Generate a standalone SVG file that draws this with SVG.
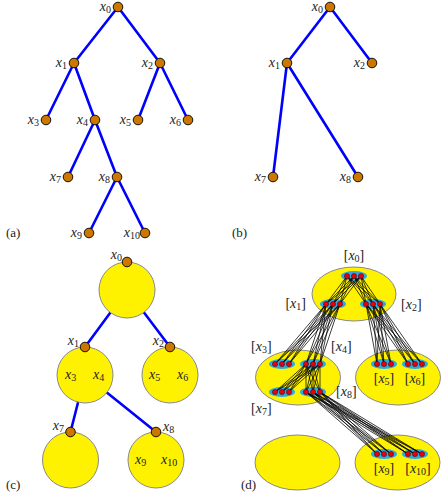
<svg xmlns="http://www.w3.org/2000/svg" width="444" height="496" viewBox="0 0 444 496">
<style>
text{font-family:"Liberation Serif","DejaVu Serif",serif;font-size:14px;fill:#222}
.v{font-style:italic}
.s{font-size:10px}
.e{stroke:#0000ff;stroke-width:2.6;fill:none;stroke-linecap:round}
.n{fill:#cc7700;stroke:#000;stroke-width:0.9}
.big{fill:#fff200;stroke:#888;stroke-width:1}
.halo{fill:#29abe2}
.d{fill:#e8000b;stroke:#400;stroke-width:0.5}
.w{stroke:#000;stroke-width:0.75;fill:none}
.cap{font-size:13px}
</style>
<rect width="444" height="496" fill="#fff"/>

<!-- ========== Panel (a) ========== -->
<g id="a-connectors">
<path class="e" d="M118 7L74 63M118 7L160 63M74 63L46 120M74 63L95 120M160 63L138 120M160 63L188 120M95 120L68 177M95 120L117 177M117 177L89 233M117 177L145 233"/>
</g>
<g id="a-x0"><circle class="n" cx="118" cy="7" r="4.8"/><text x="111" y="11" text-anchor="end"><tspan class="v">x</tspan><tspan class="s" dy="2">0</tspan></text></g>
<g id="a-x1"><circle class="n" cx="74" cy="63" r="4.8"/><text x="67" y="67" text-anchor="end"><tspan class="v">x</tspan><tspan class="s" dy="2">1</tspan></text></g>
<g id="a-x2"><circle class="n" cx="160" cy="63" r="4.8"/><text x="153" y="67" text-anchor="end"><tspan class="v">x</tspan><tspan class="s" dy="2">2</tspan></text></g>
<g id="a-x3"><circle class="n" cx="46" cy="120" r="4.8"/><text x="39" y="124" text-anchor="end"><tspan class="v">x</tspan><tspan class="s" dy="2">3</tspan></text></g>
<g id="a-x4"><circle class="n" cx="95" cy="120" r="4.8"/><text x="88" y="124" text-anchor="end"><tspan class="v">x</tspan><tspan class="s" dy="2">4</tspan></text></g>
<g id="a-x5"><circle class="n" cx="138" cy="120" r="4.8"/><text x="131" y="124" text-anchor="end"><tspan class="v">x</tspan><tspan class="s" dy="2">5</tspan></text></g>
<g id="a-x6"><circle class="n" cx="188" cy="120" r="4.8"/><text x="181" y="124" text-anchor="end"><tspan class="v">x</tspan><tspan class="s" dy="2">6</tspan></text></g>
<g id="a-x7"><circle class="n" cx="68" cy="177" r="4.8"/><text x="61" y="181" text-anchor="end"><tspan class="v">x</tspan><tspan class="s" dy="2">7</tspan></text></g>
<g id="a-x8"><circle class="n" cx="117" cy="177" r="4.8"/><text x="110" y="181" text-anchor="end"><tspan class="v">x</tspan><tspan class="s" dy="2">8</tspan></text></g>
<g id="a-x9"><circle class="n" cx="89" cy="233" r="4.8"/><text x="82" y="237" text-anchor="end"><tspan class="v">x</tspan><tspan class="s" dy="2">9</tspan></text></g>
<g id="a-x10"><circle class="n" cx="145" cy="233" r="4.8"/><text x="140" y="237" text-anchor="end"><tspan class="v">x</tspan><tspan class="s" dy="2">10</tspan></text></g>
<text class="cap" x="6" y="237">(a)</text>

<!-- ========== Panel (b) ========== -->
<g id="b-connectors">
<path class="e" d="M330 7L287 63M330 7L372 63M287 63L273 177M287 63L358 177"/>
</g>
<g id="b-x0"><circle class="n" cx="330" cy="7" r="4.8"/><text x="323" y="11" text-anchor="end"><tspan class="v">x</tspan><tspan class="s" dy="2">0</tspan></text></g>
<g id="b-x1"><circle class="n" cx="287" cy="63" r="4.8"/><text x="280" y="67" text-anchor="end"><tspan class="v">x</tspan><tspan class="s" dy="2">1</tspan></text></g>
<g id="b-x2"><circle class="n" cx="372" cy="63" r="4.8"/><text x="365" y="67" text-anchor="end"><tspan class="v">x</tspan><tspan class="s" dy="2">2</tspan></text></g>
<g id="b-x7"><circle class="n" cx="273" cy="177" r="4.8"/><text x="266" y="181" text-anchor="end"><tspan class="v">x</tspan><tspan class="s" dy="2">7</tspan></text></g>
<g id="b-x8"><circle class="n" cx="358" cy="177" r="4.8"/><text x="351" y="181" text-anchor="end"><tspan class="v">x</tspan><tspan class="s" dy="2">8</tspan></text></g>
<text class="cap" x="232" y="237">(b)</text>

<!-- ========== Panel (c) ========== -->
<g id="c-connectors">
<path class="e" d="M127 290L85 347M127 290L170 347M85 375L70.5 432M85 375L156 432"/>
</g>
<g id="c-x0"><circle class="big" cx="127" cy="290" r="28"/><circle class="n" cx="127" cy="262" r="4.8"/><text x="122" y="259" text-anchor="end"><tspan class="v">x</tspan><tspan class="s" dy="2">0</tspan></text></g>
<g id="c-x1"><circle class="big" cx="85" cy="375" r="28"/><circle class="n" cx="85" cy="347" r="4.8"/><text x="79" y="345" text-anchor="end"><tspan class="v">x</tspan><tspan class="s" dy="2">1</tspan></text>
<text x="65" y="379"><tspan class="v">x</tspan><tspan class="s" dy="2">3</tspan></text><text x="93" y="379"><tspan class="v">x</tspan><tspan class="s" dy="2">4</tspan></text></g>
<g id="c-x2"><circle class="big" cx="170" cy="375" r="28"/><circle class="n" cx="170" cy="347" r="4.8"/><text x="164" y="345" text-anchor="end"><tspan class="v">x</tspan><tspan class="s" dy="2">2</tspan></text>
<text x="149" y="379"><tspan class="v">x</tspan><tspan class="s" dy="2">5</tspan></text><text x="177" y="379"><tspan class="v">x</tspan><tspan class="s" dy="2">6</tspan></text></g>
<g id="c-x7"><circle class="big" cx="70.5" cy="460" r="28"/><circle class="n" cx="70.5" cy="432" r="4.8"/><text x="64" y="430" text-anchor="end"><tspan class="v">x</tspan><tspan class="s" dy="2">7</tspan></text></g>
<g id="c-x8"><circle class="big" cx="156" cy="460" r="28"/><circle class="n" cx="156" cy="432" r="4.8"/><text x="163" y="431"><tspan class="v">x</tspan><tspan class="s" dy="2">8</tspan></text>
<text x="135" y="464"><tspan class="v">x</tspan><tspan class="s" dy="2">9</tspan></text><text x="161" y="464"><tspan class="v">x</tspan><tspan class="s" dy="2">10</tspan></text></g>
<text class="cap" x="6" y="489">(c)</text>

<!-- ========== Panel (d) ========== -->
<g id="d-clusters">
<ellipse class="big" cx="354" cy="294" rx="42" ry="27"/>
<ellipse class="big" cx="298" cy="377.5" rx="42.5" ry="27.5"/>
<ellipse class="big" cx="398" cy="377.5" rx="42.5" ry="27.5"/>
<ellipse class="big" cx="297.5" cy="462.5" rx="42.5" ry="27.5"/>
<ellipse class="big" cx="397.5" cy="462.5" rx="42.5" ry="27.5"/>
</g>
<g id="d-halos">
<ellipse class="halo" cx="354" cy="276" rx="13" ry="5"/>
<ellipse class="halo" cx="333" cy="304" rx="13" ry="5"/>
<ellipse class="halo" cx="373" cy="304" rx="13" ry="5"/>
<ellipse class="halo" cx="282" cy="364" rx="13" ry="5"/>
<ellipse class="halo" cx="313" cy="364" rx="13" ry="5"/>
<ellipse class="halo" cx="384" cy="364" rx="13" ry="5"/>
<ellipse class="halo" cx="415" cy="364" rx="13" ry="5"/>
<ellipse class="halo" cx="282" cy="392" rx="13" ry="5"/>
<ellipse class="halo" cx="313" cy="392" rx="13" ry="5"/>
<ellipse class="halo" cx="384" cy="454" rx="13" ry="5"/>
<ellipse class="halo" cx="415" cy="454" rx="13" ry="5"/>
</g>
<g id="d-connectors" class="w">
<path d="M347 276L326 304M347 276L333 304M347 276L340 304M354 276L326 304M354 276L333 304M354 276L340 304M361 276L326 304M361 276L333 304M361 276L340 304"/>
<path d="M347 276L366 304M347 276L373 304M347 276L380 304M354 276L366 304M354 276L373 304M354 276L380 304M361 276L366 304M361 276L373 304M361 276L380 304"/>
<path d="M326 304L275 364M326 304L282 364M326 304L289 364M333 304L275 364M333 304L282 364M333 304L289 364M340 304L275 364M340 304L282 364M340 304L289 364"/>
<path d="M326 304L306 364M326 304L313 364M326 304L320 364M333 304L306 364M333 304L313 364M333 304L320 364M340 304L306 364M340 304L313 364M340 304L320 364"/>
<path d="M366 304L377 364M366 304L384 364M366 304L391 364M373 304L377 364M373 304L384 364M373 304L391 364M380 304L377 364M380 304L384 364M380 304L391 364"/>
<path d="M366 304L408 364M366 304L415 364M366 304L422 364M373 304L408 364M373 304L415 364M373 304L422 364M380 304L408 364M380 304L415 364M380 304L422 364"/>
<path d="M306 364L275 392M306 364L282 392M306 364L289 392M313 364L275 392M313 364L282 392M313 364L289 392M320 364L275 392M320 364L282 392M320 364L289 392"/>
<path d="M306 364L306 392M306 364L313 392M306 364L320 392M313 364L306 392M313 364L313 392M313 364L320 392M320 364L306 392M320 364L313 392M320 364L320 392"/>
<path d="M306 392L377 454M306 392L384 454M306 392L391 454M313 392L377 454M313 392L384 454M313 392L391 454M320 392L377 454M320 392L384 454M320 392L391 454"/>
<path d="M306 392L408 454M306 392L415 454M306 392L422 454M313 392L408 454M313 392L415 454M313 392L422 454M320 392L408 454M320 392L415 454M320 392L422 454"/>
</g>
<g id="d-x0"><circle class="d" cx="347" cy="276" r="2.6"/><circle class="d" cx="354" cy="276" r="2.6"/><circle class="d" cx="361" cy="276" r="2.6"/>
<text x="354" y="260" text-anchor="middle">[<tspan class="v">x</tspan><tspan class="s" dy="2">0</tspan><tspan dy="-2">]</tspan></text></g>
<g id="d-x1"><circle class="d" cx="326" cy="304" r="2.6"/><circle class="d" cx="333" cy="304" r="2.6"/><circle class="d" cx="340" cy="304" r="2.6"/>
<text x="306" y="308" text-anchor="end">[<tspan class="v">x</tspan><tspan class="s" dy="2">1</tspan><tspan dy="-2">]</tspan></text></g>
<g id="d-x2"><circle class="d" cx="366" cy="304" r="2.6"/><circle class="d" cx="373" cy="304" r="2.6"/><circle class="d" cx="380" cy="304" r="2.6"/>
<text x="401" y="309">[<tspan class="v">x</tspan><tspan class="s" dy="2">2</tspan><tspan dy="-2">]</tspan></text></g>
<g id="d-x3"><circle class="d" cx="275" cy="364" r="2.6"/><circle class="d" cx="282" cy="364" r="2.6"/><circle class="d" cx="289" cy="364" r="2.6"/>
<text x="251" y="351">[<tspan class="v">x</tspan><tspan class="s" dy="2">3</tspan><tspan dy="-2">]</tspan></text></g>
<g id="d-x4"><circle class="d" cx="306" cy="364" r="2.6"/><circle class="d" cx="313" cy="364" r="2.6"/><circle class="d" cx="320" cy="364" r="2.6"/>
<text x="331" y="351">[<tspan class="v">x</tspan><tspan class="s" dy="2">4</tspan><tspan dy="-2">]</tspan></text></g>
<g id="d-x5"><circle class="d" cx="377" cy="364" r="2.6"/><circle class="d" cx="384" cy="364" r="2.6"/><circle class="d" cx="391" cy="364" r="2.6"/>
<text x="384" y="383" text-anchor="middle">[<tspan class="v">x</tspan><tspan class="s" dy="2">5</tspan><tspan dy="-2">]</tspan></text></g>
<g id="d-x6"><circle class="d" cx="408" cy="364" r="2.6"/><circle class="d" cx="415" cy="364" r="2.6"/><circle class="d" cx="422" cy="364" r="2.6"/>
<text x="415" y="383" text-anchor="middle">[<tspan class="v">x</tspan><tspan class="s" dy="2">6</tspan><tspan dy="-2">]</tspan></text></g>
<g id="d-x7"><circle class="d" cx="275" cy="392" r="2.6"/><circle class="d" cx="282" cy="392" r="2.6"/><circle class="d" cx="289" cy="392" r="2.6"/>
<text x="251" y="413">[<tspan class="v">x</tspan><tspan class="s" dy="2">7</tspan><tspan dy="-2">]</tspan></text></g>
<g id="d-x8"><circle class="d" cx="306" cy="392" r="2.6"/><circle class="d" cx="313" cy="392" r="2.6"/><circle class="d" cx="320" cy="392" r="2.6"/>
<text x="336" y="396">[<tspan class="v">x</tspan><tspan class="s" dy="2">8</tspan><tspan dy="-2">]</tspan></text></g>
<g id="d-x9"><circle class="d" cx="377" cy="454" r="2.6"/><circle class="d" cx="384" cy="454" r="2.6"/><circle class="d" cx="391" cy="454" r="2.6"/>
<text x="384" y="473" text-anchor="middle">[<tspan class="v">x</tspan><tspan class="s" dy="2">9</tspan><tspan dy="-2">]</tspan></text></g>
<g id="d-x10"><circle class="d" cx="408" cy="454" r="2.6"/><circle class="d" cx="415" cy="454" r="2.6"/><circle class="d" cx="422" cy="454" r="2.6"/>
<text x="418" y="473" text-anchor="middle">[<tspan class="v">x</tspan><tspan class="s" dy="2">10</tspan><tspan dy="-2">]</tspan></text></g>
<text class="cap" x="241" y="489">(d)</text>
</svg>
